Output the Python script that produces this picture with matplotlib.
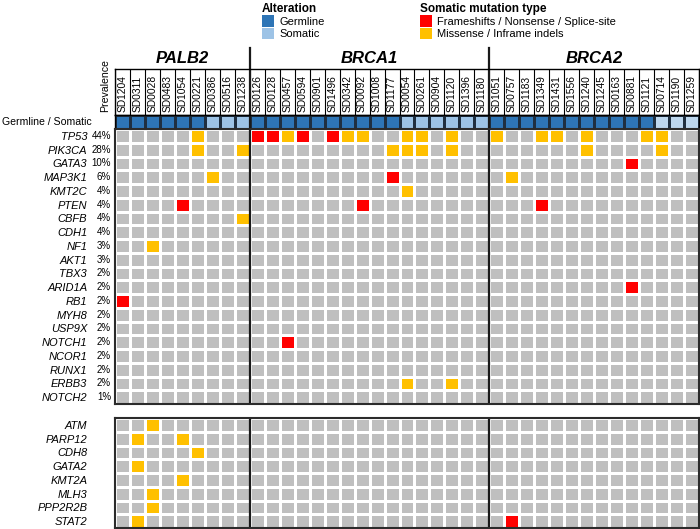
import matplotlib.pyplot as plt
import numpy as np
from matplotlib.colors import ListedColormap
from matplotlib.patches import Patch

plt.rcParams['font.family'] = ['Liberation Sans', 'DejaVu Sans']

# --- DATA ---
groups = ["PALB2", "BRCA1", "BRCA2"]
palb2_samples = ["SD1204", "SD0311", "SD0028", "SD0483", "SD1054", "SD0221",
                 "SD0386", "SD0516", "SD1238"]
brca1_samples = ["SD0126", "SD0128", "SD0457", "SD0594", "SD0901", "SD1496",
                 "SD0342", "SD0092", "SD1008", "SD1177", "SD0054", "SD0261",
                 "SD0904", "SD1120", "SD1396", "SD1180"]
brca2_samples = ["SD1051", "SD0757", "SD1183", "SD1349", "SD1431", "SD1556",
                 "SD1240", "SD1245", "SD0163", "SD0881", "SD1121", "SD0714",
                 "SD1190", "SD1259"]
# G = germline, S = somatic
palb2_status = list("GGGGGGSSS")
brca1_status = list("GGGGGGGGGGSSSSSS")
brca2_status = list("GGGGGGGGGGGSSS")

top_genes = ["TP53", "PIK3CA", "GATA3", "MAP3K1", "KMT2C", "PTEN", "CBFB", "CDH1",
             "NF1", "AKT1", "TBX3", "ARID1A", "RB1", "MYH8", "USP9X", "NOTCH1",
             "NCOR1", "RUNX1", "ERBB3", "NOTCH2"]
top_prevalence = ["44%", "28%", "10%", "6%", "4%", "4%", "4%", "4%", "3%", "3%",
                  "2%", "2%", "2%", "2%", "2%", "2%", "2%", "2%", "2%", "1%"]
bottom_genes = ["ATM", "PARP12", "CDH8", "GATA2", "KMT2A", "MLH3", "PPP2R2B", "STAT2"]

# F = frameshift / nonsense / splice-site, M = missense / inframe indel
mutations = [
    ("TP53", "SD0221", "M"), ("TP53", "SD0126", "F"), ("TP53", "SD0128", "F"),
    ("TP53", "SD0457", "M"), ("TP53", "SD0594", "F"), ("TP53", "SD1496", "F"),
    ("TP53", "SD0342", "M"), ("TP53", "SD0092", "M"), ("TP53", "SD0054", "M"),
    ("TP53", "SD0261", "M"), ("TP53", "SD1120", "M"), ("TP53", "SD1051", "M"),
    ("TP53", "SD1349", "M"), ("TP53", "SD1431", "M"), ("TP53", "SD1240", "M"),
    ("TP53", "SD1121", "M"), ("TP53", "SD0714", "M"),
    ("PIK3CA", "SD0221", "M"), ("PIK3CA", "SD1238", "M"), ("PIK3CA", "SD1177", "M"),
    ("PIK3CA", "SD0054", "M"), ("PIK3CA", "SD0261", "M"), ("PIK3CA", "SD1120", "M"),
    ("PIK3CA", "SD1240", "M"), ("PIK3CA", "SD0714", "M"),
    ("GATA3", "SD0881", "F"),
    ("MAP3K1", "SD0386", "M"), ("MAP3K1", "SD1177", "F"), ("MAP3K1", "SD0757", "M"),
    ("KMT2C", "SD0054", "M"),
    ("PTEN", "SD1054", "F"), ("PTEN", "SD0092", "F"), ("PTEN", "SD1349", "F"),
    ("CBFB", "SD1238", "M"),
    ("NF1", "SD0028", "M"),
    ("ARID1A", "SD0881", "F"),
    ("RB1", "SD1204", "F"),
    ("NOTCH1", "SD0457", "F"),
    ("ERBB3", "SD0054", "M"), ("ERBB3", "SD1120", "M"),
    ("ATM", "SD0028", "M"),
    ("PARP12", "SD0311", "M"), ("PARP12", "SD1054", "M"),
    ("CDH8", "SD0221", "M"),
    ("GATA2", "SD0311", "M"),
    ("KMT2A", "SD1054", "M"),
    ("MLH3", "SD0028", "M"),
    ("PPP2R2B", "SD0028", "M"),
    ("STAT2", "SD0311", "M"), ("STAT2", "SD0757", "F"),
]

# --- PREP ---
group_samples = [palb2_samples, brca1_samples, brca2_samples]
samples = palb2_samples + brca1_samples + brca2_samples
n_cols = len(samples)
col_of = {s: i for i, s in enumerate(samples)}
bounds = np.cumsum([0] + [len(g) for g in group_samples])

# status codes: 0 germline, 1 somatic, 2 somatic (lighter shade used for BRCA2)
status_codes = []
for gi, st in enumerate([palb2_status, brca1_status, brca2_status]):
    for s in st:
        status_codes.append(0 if s == "G" else (2 if gi == 2 else 1))
status_mat = np.array([status_codes])

type_code = {"F": 1, "M": 2}


def build_matrix(genes):
    mat = np.zeros((len(genes), n_cols))
    row_of = {g: i for i, g in enumerate(genes)}
    for gene, sample, kind in mutations:
        if gene in row_of:
            mat[row_of[gene], col_of[sample]] = type_code[kind]
    return mat


top_mat = build_matrix(top_genes)
bottom_mat = build_matrix(bottom_genes)

GRAY, RED, YELLOW = "#bfbfbf", "#ff0000", "#ffc000"
GERM, SOMA, SOMA2 = "#2e75b6", "#9dc3e6", "#bdd7ee"
mut_cmap = ListedColormap([GRAY, RED, YELLOW])
status_cmap = ListedColormap([GERM, SOMA, SOMA2])

# --- FIGURE ---
W, H = 700, 529
fig = plt.figure(figsize=(W / 100, H / 100), dpi=100)


def px_axes(x0, y0, x1, y1):
    # pixel box (top-left origin) -> figure fraction axes
    return fig.add_axes([x0 / W, 1 - y1 / H, (x1 - x0) / W, (y1 - y0) / H])


GX0, GX1 = 115, 699
ax_h = px_axes(GX0, 69, GX1, 115)
ax_s = px_axes(GX0, 115, GX1, 129)
ax_t = px_axes(GX0, 129, GX1, 404)
ax_b = px_axes(GX0, 418, GX1, 528)

# header with sample names
ax_h.set_xlim(0, n_cols)
ax_h.set_ylim(0, 1)
ax_h.vlines(np.arange(n_cols + 1), 0, 1, color="black", lw=0.8)
for i, s in enumerate(samples):
    ax_h.text(i + 0.5, 0.07, s, rotation=90, ha="center", va="bottom", fontsize=7.4)
ax_h.set_xticks([])
ax_h.set_yticks([])
for sp in ax_h.spines.values():
    sp.set_linewidth(1.0)
for gi, g in enumerate(groups):
    ax_h.text((bounds[gi] + bounds[gi + 1]) / 2, 1.22, g, ha="center", va="center",
              fontsize=12, fontweight="bold", style="italic")
for b in bounds[1:-1]:
    ax_h.axvline(b, ymin=0, ymax=1.46, color="#1a1a1a", lw=1.6, clip_on=False)
ax_h.text(-10 / (GX1 - GX0), 0.07, "Prevalence", rotation=90, ha="center", va="bottom",
          fontsize=7.6, transform=ax_h.transAxes)

# germline / somatic row
ax_s.pcolormesh(status_mat, cmap=status_cmap, vmin=-0.5, vmax=2.5,
                edgecolors="#1f2f40", linewidth=0.8)
ax_s.set_xlim(0, n_cols)
ax_s.set_ylim(1, 0)
ax_s.set_xticks([])
ax_s.set_yticks([])
ax_s.text(-23 / (GX1 - GX0), 0.5, "Germline / Somatic", ha="right", va="center",
          fontsize=7.6, transform=ax_s.transAxes)


def draw_panel(ax, mat, genes, prevalence=None):
    ax.pcolormesh(mat, cmap=mut_cmap, vmin=-0.5, vmax=2.5,
                  edgecolors="white", linewidth=0.9)
    ax.set_xlim(0, n_cols)
    ax.set_ylim(len(genes), 0)
    ax.set_xticks([])
    ax.set_yticks(np.arange(len(genes)) + 0.5)
    ax.set_yticklabels(genes, fontsize=8, style="italic")
    ax.tick_params(axis="y", length=0, pad=20)
    for sp in ax.spines.values():
        sp.set_linewidth(1.5)
        sp.set_color("#2b2b2b")
    for b in bounds[1:-1]:
        ax.axvline(b, color="#1a1a1a", lw=1.6)
    if prevalence is not None:
        tr = ax.get_yaxis_transform()
        for i, p in enumerate(prevalence):
            ax.text(-4 / (GX1 - GX0), i + 0.5, p, ha="right", va="center",
                    fontsize=7, transform=tr)


draw_panel(ax_t, top_mat, top_genes, top_prevalence)
draw_panel(ax_b, bottom_mat, bottom_genes)
for sp in ax_s.spines.values():
    sp.set_linewidth(1.0)
for b in bounds[1:-1]:
    ax_s.axvline(b, color="#1a1a1a", lw=1.6)

# legends
legend_kw = dict(loc="upper left", frameon=False, fontsize=8,
                 title_fontproperties={"weight": "bold", "size": 8.5},
                 alignment="left", handlelength=1.1, handleheight=1.25,
                 handletextpad=0.45, labelspacing=0.05, borderpad=0.25, borderaxespad=0)
alt_handles = [Patch(facecolor=GERM, edgecolor="none"), Patch(facecolor=SOMA, edgecolor="none")]
fig.legend(alt_handles, ["Germline", "Somatic"], title="Alteration",
           bbox_to_anchor=(259 / W, 1.0), **legend_kw)
mut_handles = [Patch(facecolor=RED, edgecolor="none"), Patch(facecolor=YELLOW, edgecolor="none")]
fig.legend(mut_handles, ["Frameshifts / Nonsense / Splice-site", "Missense / Inframe indels"],
           title="Somatic mutation type", bbox_to_anchor=(417 / W, 1.0), **legend_kw)

plt.savefig("out.png", dpi=100)
